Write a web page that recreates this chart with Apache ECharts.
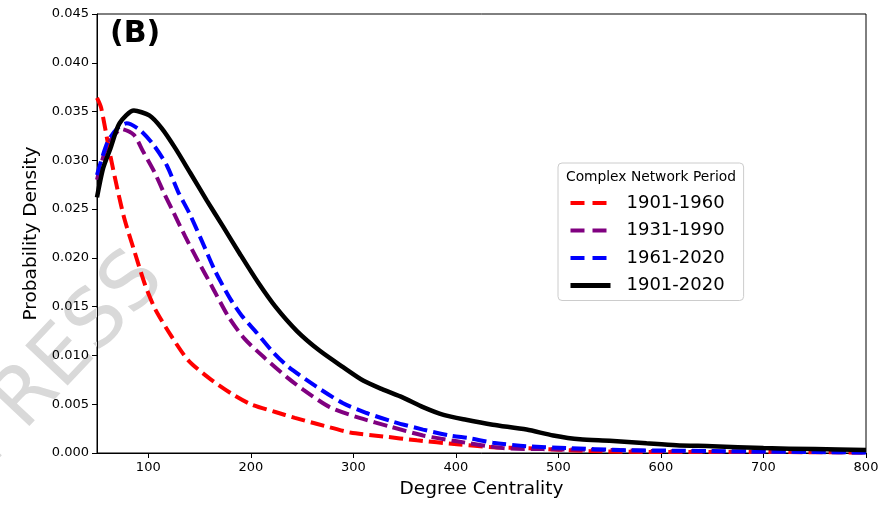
<!DOCTYPE html>
<html>
<head>
<meta charset="utf-8">
<script src="https://cdn.jsdelivr.net/npm/echarts@6/dist/echarts.min.js"></script>
<style>html,body{margin:0;padding:0;background:#fff}#c{width:889px;height:505px}</style>
</head>
<body>
<div id="c"></div>
<script>
const seriesNames = ['1901-1960', '1931-1990', '1961-2020', '1901-2020'];
const seriesColors = ['#ff0000', '#800080', '#0000ff', '#000000'];

const red_x = [50, 54, 62, 70, 77, 87, 97, 107, 123, 139, 159, 181, 200, 224, 243, 264, 297, 329, 362, 401, 436, 470, 530, 600, 700, 800];
const red_y = [0.0364, 0.0354, 0.0310, 0.0270, 0.0239, 0.0205, 0.0172, 0.0147, 0.0119, 0.0095, 0.0077, 0.0061, 0.0050, 0.0042, 0.0036, 0.0030, 0.0021, 0.0017, 0.0013, 0.0009, 0.0006, 0.0005, 0.0002, 0.0001, 0.0001, 0.00005];

const purple_x = [50, 60, 74, 86, 95, 106, 116, 124, 136, 149, 162, 178, 194, 214, 236, 251, 277, 306, 336, 368, 401, 446, 485, 550, 600, 650, 700, 750, 800];
const purple_y = [0.0280, 0.0315, 0.0332, 0.0326, 0.0309, 0.0288, 0.0265, 0.0248, 0.0222, 0.0196, 0.0171, 0.0140, 0.0117, 0.0097, 0.0077, 0.0065, 0.0047, 0.0036, 0.0027, 0.0018, 0.0012, 0.0005, 0.0004, 0.0003, 0.0002, 0.00015, 0.0001, 0.0001, 0.00005];

const blue_x = [50, 60, 70, 79, 92, 105, 118, 129, 140, 152, 165, 180, 191, 206, 222, 237, 264, 290, 313, 339, 368, 394, 414, 436, 469, 511, 560, 611, 650, 700, 750, 800];
const blue_y = [0.0285, 0.0318, 0.0333, 0.0338, 0.0331, 0.0316, 0.0295, 0.0268, 0.0246, 0.0218, 0.0187, 0.0158, 0.0141, 0.0123, 0.0103, 0.0088, 0.0068, 0.0051, 0.0041, 0.0032, 0.0024, 0.0018, 0.0015, 0.00106, 0.0007, 0.0005, 0.0003, 0.00024, 0.0002, 0.00015, 0.0001, 0.00005];

const black_x = [50, 56, 63, 72, 86, 101, 113, 126, 141, 157, 173, 190, 207, 224, 245, 267, 290, 310, 329, 348, 368, 388, 410, 436, 469, 495, 521, 550, 586, 615, 650, 700, 750, 800];
const black_y = [0.0262, 0.0292, 0.0312, 0.0338, 0.0351, 0.0346, 0.0333, 0.0313, 0.0287, 0.0259, 0.0232, 0.0203, 0.0175, 0.0150, 0.0125, 0.0105, 0.0088, 0.0074, 0.0065, 0.0057, 0.0047, 0.0039, 0.0034, 0.0029, 0.0024, 0.0018, 0.0014, 0.00126, 0.0010, 0.0008, 0.0007, 0.0005, 0.0004, 0.0003];

const xTicks = [100, 200, 300, 400, 500, 600, 700, 800];

const allX = [red_x, purple_x, blue_x, black_x];
const allY = [red_y, purple_y, blue_y, black_y];

const FONT = 'DejaVu Sans';
const chart = echarts.init(document.getElementById('c'), null, {renderer: 'canvas'});

const series = seriesNames.map((name, i) => ({
  name: name,
  type: 'line',
  data: allX[i].map((x, k) => [x, allY[i][k]]),
  symbol: 'none',
  showSymbol: false,
  smooth: 0.25,
  z: 3 + i,
  lineStyle: {
    color: seriesColors[i],
    width: i === 3 ? 4.5 : 4,
    type: i === 3 ? 'solid' : [14, 6],
    cap: 'butt'
  },
  itemStyle: {color: seriesColors[i]},
  emphasis: {disabled: true}
}));

chart.setOption({
  animation: false,
  backgroundColor: '#ffffff',
  grid: {left: 97, right: 23, top: 14, bottom: 52, show: true, borderColor: '#000', borderWidth: 1, backgroundColor: 'transparent'},
  xAxis: {
    type: 'value', min: 50, max: 800,
    name: 'Degree Centrality', nameLocation: 'middle', nameGap: 27,
    nameTextStyle: {fontFamily: FONT, fontSize: 18.5, color: '#000'},
    axisLine: {lineStyle: {color: '#000', width: 1}},
    axisTick: {show: true, length: 5, lineStyle: {color: '#000'}, customValues: xTicks},
    axisLabel: {fontFamily: FONT, fontSize: 13, color: '#000', margin: 8, customValues: xTicks},
    splitLine: {show: false}
  },
  yAxis: {
    type: 'value', min: 0, max: 0.045, interval: 0.005,
    name: 'Probability Density', nameLocation: 'middle', nameGap: 56,
    nameTextStyle: {fontFamily: FONT, fontSize: 18.5, color: '#000'},
    axisLine: {show: true, lineStyle: {color: '#000', width: 1}},
    axisTick: {show: true, length: 5, lineStyle: {color: '#000'}},
    axisLabel: {fontFamily: FONT, fontSize: 13, color: '#000', margin: 8, formatter: v => v.toFixed(3)},
    splitLine: {show: false}
  },
  legend: {
    orient: 'vertical',
    left: 558, top: 163,
    padding: [31, 19, 6, 10],
    backgroundColor: '#fff',
    borderColor: '#cccccc', borderWidth: 1, borderRadius: 4,
    itemWidth: 40, itemHeight: 14, itemGap: 9.5,
    itemStyle: {opacity: 0},
    textStyle: {fontFamily: FONT, fontSize: 18, color: '#000', padding: [0, 0, 0, 11]},
    data: seriesNames.map((n, i) => ({
      name: n,
      itemStyle: {opacity: 0},
      lineStyle: {color: seriesColors[i], width: i === 3 ? 5 : 4, type: i === 3 ? 'solid' : [14, 8], cap: 'butt'}
    })),
    selectedMode: false
  },
  graphic: [
    {type: 'text', left: 566, top: 170, z: 100,
     style: {text: 'Complex Network Period', font: '13.8px "DejaVu Sans"', fill: '#000'}},
    {type: 'text', left: 110, top: 19, z: 100,
     style: {text: '(B)', font: 'bold 30px "DejaVu Sans"', fill: '#000'}},
    {type: 'text', x: 5, y: 480, rotation: Math.PI * 46.7 / 180, z: 0, silent: true,
     style: {text: 'PRESS', font: '80px "DejaVu Sans"', fill: '#d9d9d9', verticalAlign: 'bottom'}}
  ],
  series: series
});
</script>
</body>
</html>
